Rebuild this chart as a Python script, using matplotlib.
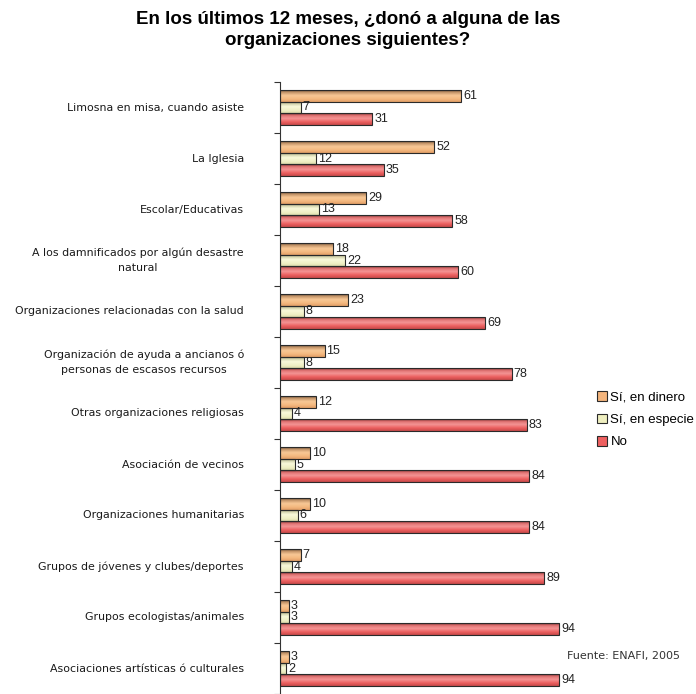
import numpy as np
import matplotlib
matplotlib.use("Agg")
import matplotlib.pyplot as plt
from matplotlib.colors import LinearSegmentedColormap

categories = [
    "Limosna en misa, cuando asiste",
    "La Iglesia",
    "Escolar/Educativas",
    "A los damnificados por algún desastre\nnatural",
    "Organizaciones relacionadas con la salud",
    "Organización de ayuda a ancianos ó\npersonas de escasos recursos",
    "Otras organizaciones religiosas",
    "Asociación de vecinos",
    "Organizaciones humanitarias",
    "Grupos de jóvenes y clubes/deportes",
    "Grupos ecologistas/animales",
    "Asociaciones artísticas ó culturales",
]
si_dinero = [61, 52, 29, 18, 23, 15, 12, 10, 10, 7, 3, 3]
si_especie = [7, 12, 13, 22, 8, 8, 4, 5, 6, 4, 3, 2]
no_dono = [31, 35, 58, 60, 69, 78, 83, 84, 84, 89, 94, 94]
series_names = ["Sí, en dinero", "Sí, en especie", "No"]

title = "En los últimos 12 meses, ¿donó a alguna de las\norganizaciones siguientes?"
source = "Fuente: ENAFI, 2005"

# legend colour and vertical shading stops for each series
base_colors = ["#f3b47c", "#eeeebf", "#ee6060"]
shades = [
    [(0.0, "#6a5038"), (0.18, "#c49468"), (0.45, "#f8c896"), (0.75, "#f4b980"), (1.0, "#e29e66")],
    [(0.0, "#70705a"), (0.18, "#c9c9a2"), (0.45, "#f9f9da"), (0.8, "#efefc4"), (1.0, "#dcdcac")],
    [(0.0, "#7e3434"), (0.2, "#e07272"), (0.45, "#f49494"), (0.75, "#ec5e5e"), (1.0, "#c64a4a")],
]

fig = plt.figure(figsize=(6.96, 6.94), dpi=100)
ax = fig.add_axes([280 / 696, 0.0, 297 / 696, 612 / 694])

n = len(categories)
y = np.arange(n) + 0.5
h = 0.225
offsets = [-h, 0.0, h]
all_series = [si_dinero, si_especie, no_dono]

for vals, off, base, stops in zip(all_series, offsets, base_colors, shades):
    cmap = LinearSegmentedColormap.from_list("shade", stops)
    bars = ax.barh(y + off, vals, height=h, color=base, edgecolor="#2a2a2a",
                   linewidth=0.8, zorder=2)
    for bar, v in zip(bars, vals):
        x0, y0 = bar.get_x(), bar.get_y()
        w, hh = bar.get_width(), bar.get_height()
        grad = np.linspace(0, 1, 64).reshape(-1, 1)
        im = ax.imshow(grad, cmap=cmap, aspect="auto",
                       extent=(x0, x0 + w, y0 + hh, y0), origin="upper",
                       zorder=2.5, interpolation="bilinear")
        im.set_clip_path(bar)
        ax.annotate(f"{v}", xy=(x0 + w, y0 + hh / 2), xytext=(2, 0),
                    textcoords="offset pixels", ha="left", va="center",
                    fontsize=9, family="Liberation Sans", color="#222222",
                    zorder=4)
    # outline drawn above the shading
    for bar in bars:
        bar.set_zorder(3)
        bar.set_facecolor("none")

ax.set_xlim(0, 100)
ax.set_ylim(n, 0)
ax.set_yticks(np.arange(n + 1))
ax.set_yticklabels([])
ax.tick_params(axis="y", direction="out", length=4, width=0.8, color="#333333")
ax.set_xticks([])
for s in ["top", "right", "bottom"]:
    ax.spines[s].set_visible(False)
ax.spines["left"].set_color("#333333")
ax.spines["left"].set_linewidth(0.8)
ax.set_facecolor("none")

for yc, lab in zip(y, categories):
    ax.annotate(lab, xy=(0, yc), xycoords=("axes fraction", "data"),
                xytext=(-36, 0), textcoords="offset pixels",
                ha="right", va="center", multialignment="center",
                fontsize=7.9, color="#1a1a1a", family="DejaVu Sans",
                linespacing=1.65)

fig.text(348 / 696, 1 - 30 / 694, title, ha="center", va="center",
         fontsize=13.5, fontweight="bold", family="Liberation Sans",
         linespacing=1.25)

handles = [plt.Rectangle((0, 0), 1, 1, facecolor=c, edgecolor="#2a2a2a",
                         linewidth=0.8) for c in base_colors]
fig.legend(handles, series_names, loc="upper left",
           bbox_to_anchor=(592 / 696, 1 - 386 / 694), frameon=False,
           handlelength=0.75, handleheight=0.75,
           handletextpad=0.25, labelspacing=0.75, borderaxespad=0,
           prop={"family": "Liberation Sans", "size": 9.5})

fig.text(567 / 696, 1 - 656 / 694, source, ha="left", va="center",
         fontsize=8, color="#333333", family="DejaVu Sans")

fig.savefig("out.png", dpi=100)
